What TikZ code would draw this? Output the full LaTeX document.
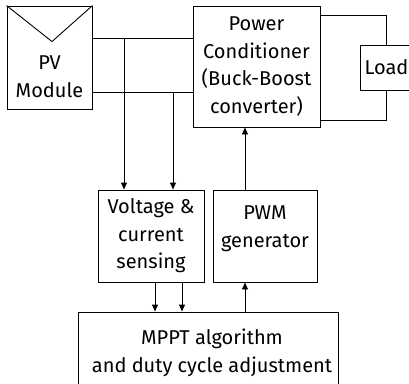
\documentclass[tikz,border=0pt]{standalone}
\usepackage{fontspec}
\setmainfont{Fira Sans}
\usetikzlibrary{positioning,arrows.meta,calc}

\tikzset{
  blk/.style={draw, line width=0.9pt, inner sep=0pt, align=center},
  lbl/.style={inner sep=0pt, align=center},
  wire/.style={line width=0.9pt},
  arr/.style={wire, -{Triangle[length=7pt,width=6pt]}}
}

\begin{document}
\begin{tikzpicture}[x=1pt, y=-1pt, font=\fontsize{20}{27.5}\selectfont]
  \useasboundingbox (0,0) rectangle (409,383);
  % blocks
  \node[blk, minimum width=85pt, minimum height=103pt] (pv) at (49.5,57.5) {};
  \node[lbl] (pvtxt) at (49.5,76.5) {PV\\Module};
  \node[blk, minimum width=127pt, minimum height=121pt] (pc) at (256.5,66.5)
    {Power\\Conditioner\\(Buck-Boost\\converter)};
  \node[blk, minimum width=52pt, minimum height=45pt] (load) at (386,67.5) {};
  \node[lbl] (loadtxt) at (386.5,67.5) {Load};
  \node[blk, minimum width=106pt, minimum height=92pt] (sense) at (151,236)
    {Voltage \&\\current\\sensing};
  \node[blk, minimum width=104pt, minimum height=92pt] (pwm) at (265,236) {};
  \node[lbl] (pwmtxt) at (265,228.5) {PWM\\generator};
  \node[blk, minimum width=260pt, minimum height=80pt] (mppt) at (208,352) {};
  \node[lbl] (mppttxt) at (212,353) {MPPT algorithm\\and duty cycle adjustment};
  % panel mark
  \draw[wire] (pv.north west) -- ($(pv.north)+(2.5,36)$) -- (pv.north east);
  % taps and control points
  \coordinate (tapA) at (124,38);
  \coordinate (tapB) at (173,92);
  \coordinate (senseL) at (155,0);
  \coordinate (senseR) at (182,0);
  \coordinate (ctl) at (245,0);
  % wiring
  \draw[wire] (pv.east |- tapA) -- (pc.west |- tapA);
  \draw[wire] (pv.east |- tapB) -- (pc.west |- tapB);
  \draw[arr] (tapA) -- (tapA |- sense.north);
  \draw[arr] (tapB) -- (tapB |- sense.north);
  \draw[wire] (pc.east |- 0,15) -| (load.north);
  \draw[wire] (pc.east |- 0,120) -| (load.south);
  \draw[arr] (sense.south -| senseL) -- (mppt.north -| senseL);
  \draw[arr] (sense.south -| senseR) -- (mppt.north -| senseR);
  \draw[arr] (mppt.north -| ctl) -- (pwm.south -| ctl);
  \draw[arr] (pwm.north -| ctl) -- (pc.south -| ctl);
\end{tikzpicture}
\end{document}
